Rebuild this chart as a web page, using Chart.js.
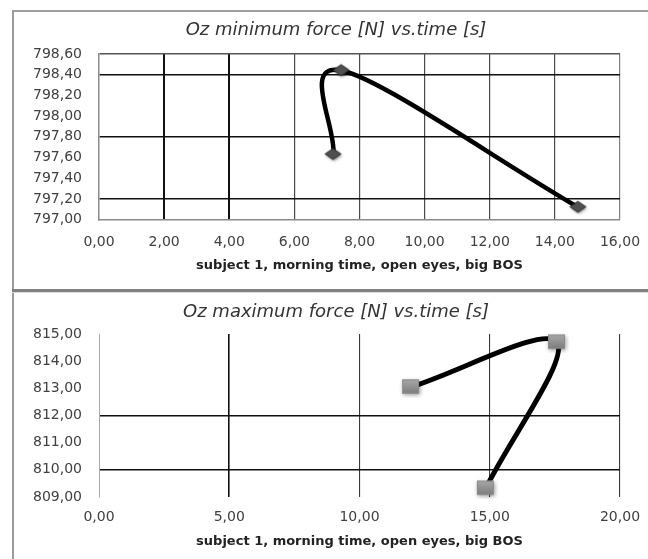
<!DOCTYPE html>
<html><head><meta charset="utf-8">
<script src="https://cdn.jsdelivr.net/npm/chart.js@4"></script>
<style>
html,body{margin:0;padding:0;width:648px;height:559px;overflow:hidden;background:#fff}
.ln{position:absolute}
#frameTop{left:12px;top:10px;width:660px;height:1.5px;background:#a0a0a0}
#frameLeft{left:12px;top:10px;width:2px;height:560px;background:#9a9a9a}
#divider{left:12px;top:289px;width:660px;height:3px;background:#808080}
#divider2{left:12px;top:292px;width:660px;height:1px;background:#dcdcdc}
canvas{position:absolute;left:0}
#c1{top:0}
#c2{top:292px}
</style></head>
<body>
<div class="ln" id="frameTop"></div>
<div class="ln" id="frameLeft"></div>
<div class="ln" id="divider"></div>
<div class="ln" id="divider2"></div>
<canvas id="c1" width="672" height="289"></canvas>
<canvas id="c2" width="672" height="267"></canvas>
<script>
// ---- data ----
const topTitle = 'Oz minimum force [N] vs.time [s]';
const bottomTitle = 'Oz maximum force [N] vs.time [s]';
const xAxisTitle = 'subject 1, morning time, open eyes, big BOS';

const minTime  = [7.20, 7.45, 14.72];
const minForce = [797.63, 798.44, 797.12];

const maxTime  = [11.98, 17.58, 14.85];
const maxForce = [813.05, 814.70, 809.32];

const topXTicks = [0, 2, 4, 6, 8, 10, 12, 14, 16];
const topYTicks = [797.0, 797.2, 797.4, 797.6, 797.8, 798.0, 798.2, 798.4, 798.6];
const botXTicks = [0, 5, 10, 15, 20];
const botYTicks = [809, 810, 811, 812, 813, 814, 815];

// ---- helpers ----
const fmt = v => Number(v).toFixed(2).replace('.', ',');
const near = (a, list) => list.some(b => Math.abs(a - b) < 1e-6);
const tickFont = {family: 'DejaVu Sans', size: 14};
const tickColor = '#404040';

function makeDiamond() {
  const c = document.createElement('canvas'); c.width = 24; c.height = 18;
  const g = c.getContext('2d');
  const cx = 11.5, cy = 8.5, hw = 8, hh = 5.5;
  g.shadowColor = 'rgba(0,0,0,0.45)'; g.shadowBlur = 3; g.shadowOffsetX = 1; g.shadowOffsetY = 1.5;
  g.beginPath(); g.moveTo(cx - hw, cy); g.lineTo(cx, cy - hh); g.lineTo(cx + hw, cy); g.lineTo(cx, cy + hh); g.closePath();
  g.fillStyle = '#505050'; g.fill();
  g.shadowColor = 'transparent'; g.lineWidth = 1; g.strokeStyle = '#2a2a2a'; g.stroke();
  return c;
}
function makeSquare() {
  const c = document.createElement('canvas'); c.width = 26; c.height = 22;
  const g = c.getContext('2d');
  const x = 4, y = 3.5, w = 17, h = 14;
  g.shadowColor = 'rgba(0,0,0,0.4)'; g.shadowBlur = 4; g.shadowOffsetX = 1; g.shadowOffsetY = 1.5;
  const gr = g.createLinearGradient(0, y, 0, y + h);
  gr.addColorStop(0, '#a8a8a8'); gr.addColorStop(1, '#7c7c7c');
  g.fillStyle = gr; g.fillRect(x, y, w, h);
  g.shadowColor = 'transparent'; g.lineWidth = 1; g.strokeStyle = '#8a8a8a'; g.strokeRect(x + 0.5, y + 0.5, w - 1, h - 1);
  return c;
}

// Excel-like smoothing of the scatter line (control points from the library's point positions)
const excelSmooth = {
  id: 'excelSmooth',
  beforeDatasetDraw(chart, args) {
    const meta = args.meta, pts = meta.data, n = pts.length;
    for (let i = 0; i < n; i++) {
      const p = pts[i], a = pts[i - 1], b = pts[i + 1];
      if (a && b) {
        const tx = (b.x - a.x) / 6, ty = (b.y - a.y) / 6;
        p.cp1x = p.x - tx; p.cp1y = p.y - ty; p.cp2x = p.x + tx; p.cp2y = p.y + ty;
      } else if (b) {
        p.cp1x = p.x; p.cp1y = p.y; p.cp2x = p.x + (b.x - p.x) / 3; p.cp2y = p.y + (b.y - p.y) / 3;
      } else if (a) {
        p.cp2x = p.x; p.cp2y = p.y; p.cp1x = p.x - (p.x - a.x) / 3; p.cp1y = p.y - (p.y - a.y) / 3;
      }
    }
    if (meta.dataset) { meta.dataset._pointsUpdated = true; delete meta.dataset._path; }
  }
};

function build(id, o) {
  return new Chart(document.getElementById(id), {
    type: 'scatter',
    data: {datasets: [{
      data: o.xs.map((x, i) => ({x, y: o.ys[i]})),
      showLine: true, borderColor: '#000', borderWidth: o.lw, tension: 0.4,
      borderCapStyle: 'round', borderJoinStyle: 'round',
      pointStyle: o.marker, pointRadius: 8, pointHoverRadius: 8, clip: false
    }]},
    options: {
      responsive: false, animation: false, events: [],
      layout: {padding: {left: 0, right: 0, top: 0, bottom: o.padBottom}},
      plugins: {
        legend: {display: false}, tooltip: {enabled: false},
        title: {display: true, text: o.title, color: '#333',
          font: {family: 'DejaVu Sans', size: 18, style: 'italic', weight: 'normal'},
          padding: {top: o.tPadTop, bottom: o.tPadBottom}}
      },
      scales: {
        x: {type: 'linear', min: o.xt[0], max: o.xt[o.xt.length - 1],
          afterBuildTicks: s => { s.ticks = o.xt.map(v => ({value: v})); },
          ticks: {callback: fmt, font: tickFont, color: tickColor, padding: o.xPad, autoSkip: false, maxRotation: 0},
          grid: {drawTicks: false,
            color: c => c.tick ? o.xGridColor(c.tick.value) : 'transparent',
            lineWidth: c => c.tick ? o.xGridWidth(c.tick.value) : 1},
          border: o.xBorder,
          title: {display: true, text: xAxisTitle, color: '#222',
            font: {family: 'DejaVu Sans', size: 13, weight: 'bold'},
            padding: {top: o.xtPadTop, bottom: 0}}
        },
        y: {type: 'linear', min: o.yt[0], max: o.yt[o.yt.length - 1],
          afterBuildTicks: s => { s.ticks = o.yt.map(v => ({value: v})); },
          afterFit: s => { s.width = 99; },
          ticks: {callback: fmt, font: tickFont, color: tickColor, padding: 17, autoSkip: false},
          grid: {drawTicks: false,
            color: c => c.tick ? o.yGridColor(c.tick.value) : 'transparent',
            lineWidth: c => c.tick ? o.yGridWidth(c.tick.value) : 1},
          border: o.yBorder
        },
        pad: {type: 'linear', position: 'right', display: true,
          ticks: {display: false}, grid: {display: false}, border: {display: false},
          afterFit: s => { s.width = 52; }}
      }
    },
    plugins: [excelSmooth]
  });
}

// top chart
build('c1', {
  xs: minTime, ys: minForce, xt: topXTicks, yt: topYTicks, title: topTitle,
  marker: makeDiamond(), lw: 4.5,
  padBottom: 15.9, tPadTop: 19.2, tPadBottom: 13.2, xPad: 14, xtPadTop: -7,
  xGridColor: v => v === 0 ? 'transparent' : (near(v, [2, 4]) ? '#111' : (v === 16 ? '#808080' : '#4a4a4a')),
  xGridWidth: v => near(v, [2, 4]) ? 2 : 1.2,
  yGridColor: v => near(v, [798.4, 797.8, 797.2]) ? '#111' : (near(v, [798.6]) ? '#555' : 'transparent'),
  yGridWidth: v => 1.5,
  xBorder: {display: true, color: '#8a8a8a', width: 1.5},
  yBorder: {display: true, color: '#8a8a8a', width: 1.5}
});

// bottom chart
build('c2', {
  xs: maxTime, ys: maxForce, xt: botXTicks, yt: botYTicks, title: bottomTitle,
  marker: makeSquare(), lw: 5,
  padBottom: 9.2, tPadTop: 9.2, tPadBottom: 11.2, xPad: 12.5, xtPadTop: -4.5,
  xGridColor: v => v === 0 ? 'transparent' : (v === 5 ? '#111' : '#3a3a3a'),
  xGridWidth: v => v === 5 ? 1.6 : 1.1,
  yGridColor: v => near(v, [812, 810]) ? '#111' : 'transparent',
  yGridWidth: v => 1.5,
  xBorder: {display: false},
  yBorder: {display: true, color: '#aaaaaa', width: 1}
});
</script>
</body></html>
